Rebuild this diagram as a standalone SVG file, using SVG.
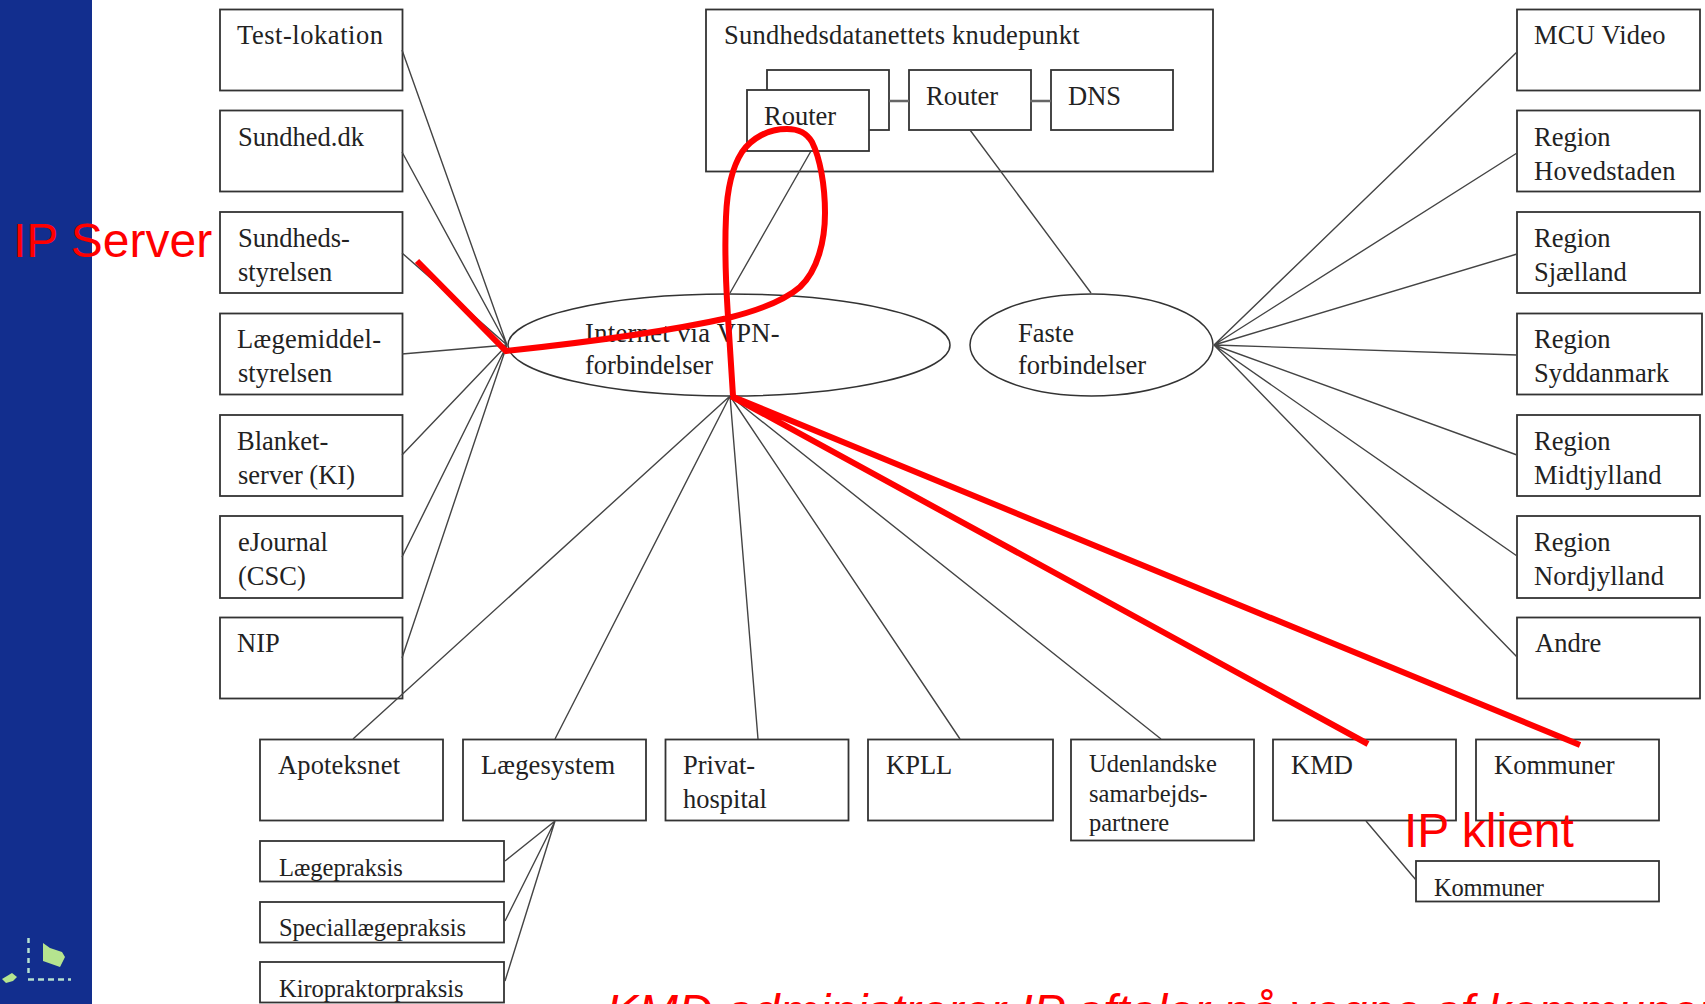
<svg xmlns="http://www.w3.org/2000/svg" width="1705" height="1004" viewBox="0 0 1705 1004">
<style>
.b{fill:#fff;stroke:#333;stroke-width:1.8}
.l{fill:none;stroke:#444;stroke-width:1.4}
.t{font-family:"Liberation Serif",serif;font-size:26.5px;fill:#222}
.s{font-size:24.5px}
.r{fill:none;stroke:#f00;stroke-width:6}
.a{font-family:"Liberation Sans",sans-serif;font-size:48px;fill:#f00}
</style>
<rect width="1705" height="1004" fill="#fff"/>
<g id="band">
<rect width="92" height="1004" fill="#122e8e"/>
<path d="M43 943L50 948L62 952L65 957L60 967L43 961Z" fill="#b5e48f"/>
<path d="M2 979L12 973L17 977L13 981L6 983Z" fill="#b5e48f"/>
<path d="M28.500 938V977" stroke="#b4e0d0" stroke-width="2.500" stroke-dasharray="5 5" fill="none"/>
<path d="M28 979.500H71" stroke="#b4e0d0" stroke-width="2.500" stroke-dasharray="6 4" fill="none"/>
</g>
<g id="knudepunkt"><rect class="b" x="706" y="9.500" width="507" height="162"/><text class="t" x="724" y="44" textLength="355.500">Sundhedsdatanettets knudepunkt</text></g>
<g id="router-back"><rect class="b" x="767" y="70" width="122" height="60"/></g>
<g id="router-front"><rect class="b" x="747" y="90" width="122" height="61"/><text class="t" x="764" y="125">Router</text></g>
<g id="router-2"><rect class="b" x="909" y="70" width="122" height="60"/><text class="t" x="926" y="105">Router</text></g>
<g id="dns"><rect class="b" x="1051" y="70" width="122" height="60"/><text class="t" x="1068" y="105">DNS</text></g>
<g id="internet"><ellipse cx="729" cy="345" rx="221" ry="51" fill="none" stroke="#333" stroke-width="1.500"/><text class="t" x="585" y="342" textLength="194.500">Internet via VPN-</text><text class="t" x="585" y="374">forbindelser</text></g>
<g id="faste"><ellipse cx="1091.500" cy="345" rx="121.500" ry="51" fill="none" stroke="#333" stroke-width="1.500"/><text class="t" x="1018" y="342">Faste</text><text class="t" x="1018" y="374">forbindelser</text></g>
<g id="test-lokation"><rect class="b" x="220" y="9.500" width="182.500" height="81"/><text class="t" x="237" y="44" textLength="146">Test-lokation</text></g>
<g id="sundhed-dk"><rect class="b" x="220" y="110.500" width="182.500" height="81"/><text class="t" x="238" y="146">Sundhed.dk</text></g>
<g id="sundhedsstyrelsen"><rect class="b" x="220" y="212" width="182.500" height="81"/><text class="t" x="238" y="247">Sundheds-</text><text class="t" x="238" y="281">styrelsen</text></g>
<g id="laegemiddelstyrelsen"><rect class="b" x="220" y="313.500" width="182.500" height="81"/><text class="t" x="237" y="348" textLength="144">Lægemiddel-</text><text class="t" x="238" y="382">styrelsen</text></g>
<g id="blanket"><rect class="b" x="220" y="415" width="182.500" height="81"/><text class="t" x="237" y="450">Blanket-</text><text class="t" x="238" y="484">server (KI)</text></g>
<g id="ejournal"><rect class="b" x="220" y="516" width="182.500" height="82"/><text class="t" x="238" y="551">eJournal</text><text class="t" x="238" y="585">(CSC)</text></g>
<g id="nip"><rect class="b" x="220" y="617.500" width="182.500" height="81"/><text class="t" x="237" y="652">NIP</text></g>
<g id="mcu"><rect class="b" x="1517" y="9.500" width="183" height="81"/><text class="t" x="1534" y="44" textLength="131.500">MCU Video</text></g>
<g id="hovedstaden"><rect class="b" x="1517" y="110.500" width="183" height="81"/><text class="t" x="1534" y="146">Region</text><text class="t" x="1534" y="180" textLength="141.500">Hovedstaden</text></g>
<g id="sjaelland"><rect class="b" x="1517" y="212" width="183" height="81"/><text class="t" x="1534" y="247">Region</text><text class="t" x="1534" y="281">Sjælland</text></g>
<g id="syddanmark"><rect class="b" x="1517" y="313.500" width="185" height="81"/><text class="t" x="1534" y="348">Region</text><text class="t" x="1534" y="382" textLength="135">Syddanmark</text></g>
<g id="midtjylland"><rect class="b" x="1517" y="415" width="183" height="81"/><text class="t" x="1534" y="450">Region</text><text class="t" x="1534" y="484" textLength="127.500">Midtjylland</text></g>
<g id="nordjylland"><rect class="b" x="1517" y="516" width="183" height="82"/><text class="t" x="1534" y="551">Region</text><text class="t" x="1534" y="585" textLength="130">Nordjylland</text></g>
<g id="andre"><rect class="b" x="1517" y="617.500" width="183" height="81"/><text class="t" x="1535" y="652">Andre</text></g>
<g id="apoteksnet"><rect class="b" x="260" y="739.500" width="183" height="81"/><text class="t" x="278" y="774" textLength="122">Apoteksnet</text></g>
<g id="laegesystem"><rect class="b" x="463" y="739.500" width="183" height="81"/><text class="t" x="481" y="774" textLength="134">Lægesystem</text></g>
<g id="privathospital"><rect class="b" x="665.500" y="739.500" width="183" height="81"/><text class="t" x="683" y="774">Privat-</text><text class="t" x="683" y="808">hospital</text></g>
<g id="kpll"><rect class="b" x="868" y="739.500" width="185" height="81"/><text class="t" x="886" y="774">KPLL</text></g>
<g id="udenlandske"><rect class="b" x="1071" y="739.500" width="183" height="101"/><text class="t s" x="1089" y="772">Udenlandske</text><text class="t s" x="1089" y="802">samarbejds-</text><text class="t s" x="1089" y="831">partnere</text></g>
<g id="kmd"><rect class="b" x="1273" y="739.500" width="183" height="81"/><text class="t" x="1291" y="774">KMD</text></g>
<g id="kommuner"><rect class="b" x="1476" y="739.500" width="183" height="81"/><text class="t" x="1494" y="774">Kommuner</text></g>
<g id="laegepraksis"><rect class="b" x="260" y="841" width="244" height="40.500"/><text class="t s" x="279" y="876">Lægepraksis</text></g>
<g id="speciallaegepraksis"><rect class="b" x="260" y="902" width="244" height="40.500"/><text class="t s" x="279" y="936" textLength="187">Speciallægepraksis</text></g>
<g id="kiropraktorpraksis"><rect class="b" x="260" y="962" width="244" height="40.500"/><text class="t s" x="279" y="997" textLength="184.500">Kiropraktorpraksis</text></g>
<g id="kommuner-2"><rect class="b" x="1416" y="861" width="243" height="40.500"/><text class="t s" x="1434" y="896" textLength="110">Kommuner</text></g>
<g id="connectors">
<path class="l" d="M402 50L507 345M402 152L507 345M402 253L507 345M402 354L507 345M402 455L507 345M402 557L507 345M402 658L507 345"/>
<path class="l" d="M1517 52L1214 345M1517 153L1214 345M1517 254L1214 345M1517 355L1214 345M1517 455L1214 345M1517 556L1214 345M1517 657L1214 345"/>
<path class="l" d="M730 396L353 739M730 396L555 739M730 396L758 739M730 396L960 739M730 396L1161 739"/>
<path class="l" d="M811 151L730 293M970 130L1091 293"/>
<path class="l" d="M555 821L505 861M555 821L505 921M555 821L505 981M1366 821L1416 880"/>
<path d="M889 101H909M1030 101H1051" stroke="#666" stroke-width="2.500" fill="none"/>
</g>
<g id="red-lines">
<path class="r" d="M417 261L506 351C590 342 665 332 728 318C760 310 785 300 800 287C818 270 825 240 825 213C825 185 820 158 812 142C806 132 798 129 787 129C768 129 752 138 742 152C733 166 727 190 726 217C724 260 727 300 728 317L733 396"/>
<path class="r" d="M731 396L1368 744M731 396L1580 745"/>
</g>
<g id="annotations">
<text class="a" x="13" y="257">IP Server</text>
<text class="a" x="1404" y="847">IP klient</text>
<text class="a" x="606" y="1028" font-style="italic">KMD administrerer IP aftaler på vegne af kommuner</text>
</g>
</svg>
